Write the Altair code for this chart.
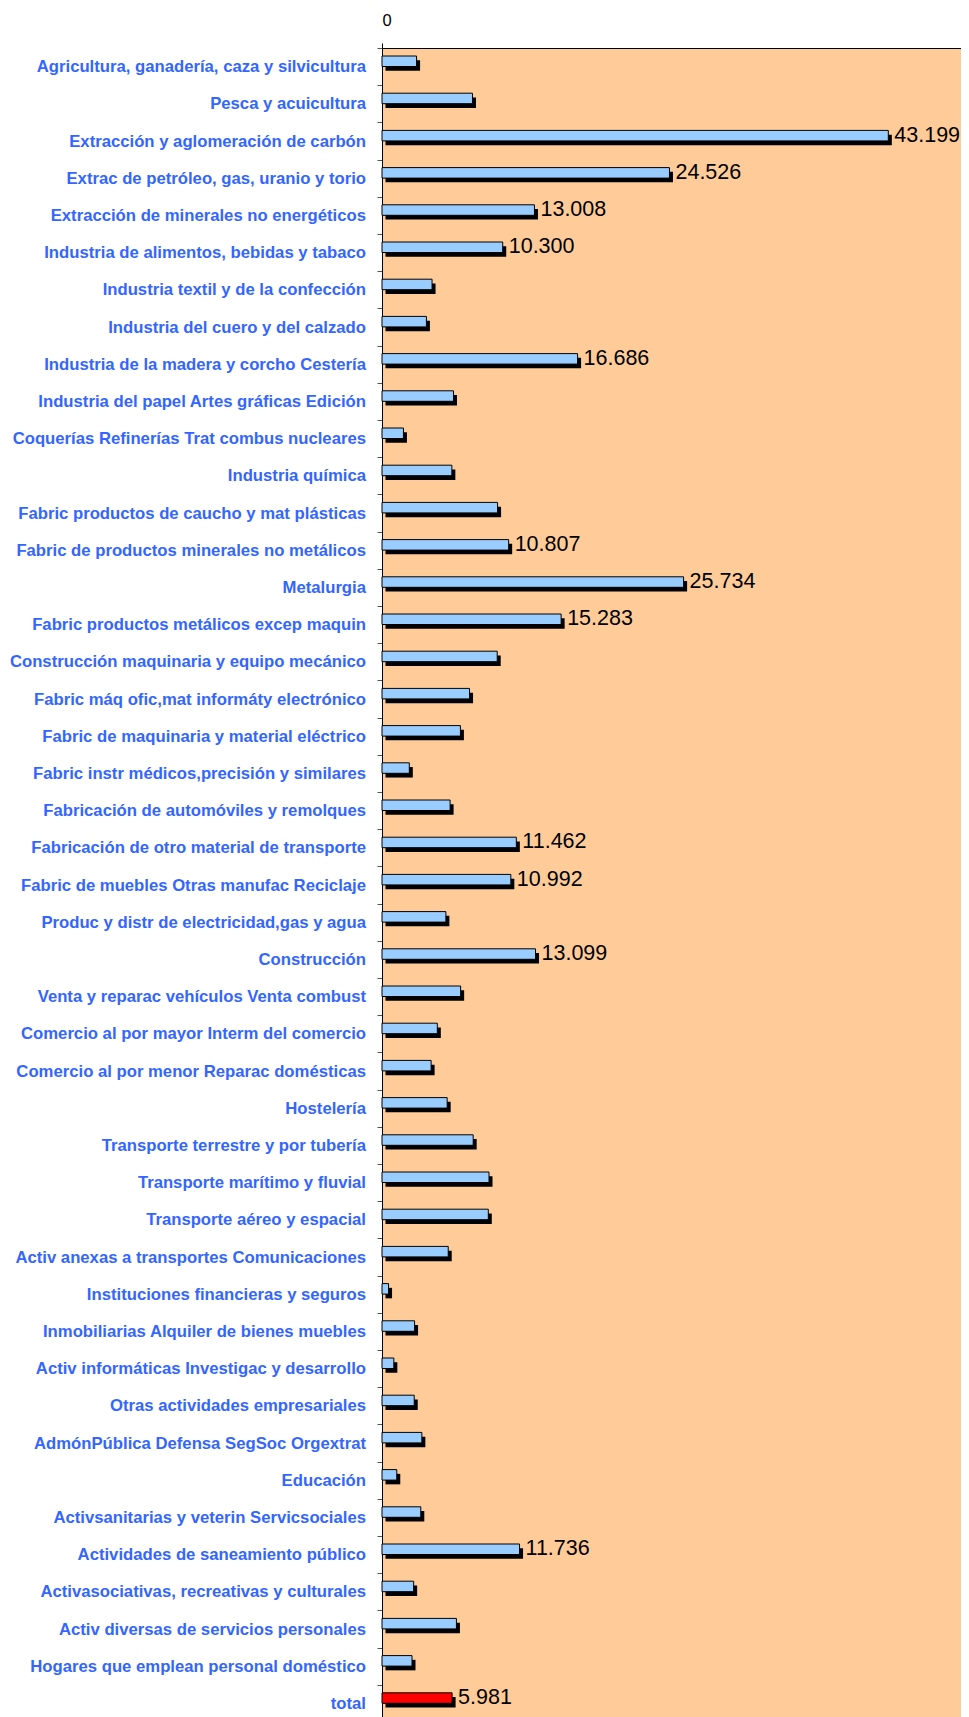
import altair as alt
import pandas as pd

categories = [
    "Agricultura, ganadería, caza y silvicultura",
    "Pesca y acuicultura",
    "Extracción y aglomeración de carbón",
    "Extrac de petróleo, gas, uranio y torio",
    "Extracción de minerales no energéticos",
    "Industria de alimentos, bebidas y tabaco",
    "Industria textil y de la confección",
    "Industria del cuero y del calzado",
    "Industria de la madera y corcho Cestería",
    "Industria del papel Artes gráficas Edición",
    "Coquerías Refinerías Trat combus nucleares",
    "Industria química",
    "Fabric productos de caucho y mat plásticas",
    "Fabric de productos minerales no metálicos",
    "Metalurgia",
    "Fabric productos metálicos excep maquin",
    "Construcción maquinaria y equipo mecánico",
    "Fabric máq ofic,mat informáty electrónico",
    "Fabric de maquinaria y material eléctrico",
    "Fabric instr médicos,precisión y similares",
    "Fabricación de automóviles y remolques",
    "Fabricación de otro material de transporte",
    "Fabric de muebles Otras manufac Reciclaje",
    "Produc y distr de electricidad,gas y agua",
    "Construcción",
    "Venta y reparac vehículos Venta combust",
    "Comercio al por mayor Interm del comercio",
    "Comercio al por menor Reparac domésticas",
    "Hostelería",
    "Transporte terrestre y por tubería",
    "Transporte marítimo y fluvial",
    "Transporte aéreo y espacial",
    "Activ anexas a transportes Comunicaciones",
    "Instituciones financieras y seguros",
    "Inmobiliarias Alquiler de bienes muebles",
    "Activ informáticas Investigac y desarrollo",
    "Otras actividades empresariales",
    "AdmónPública Defensa SegSoc  Orgextrat",
    "Educación",
    "Activsanitarias y veterin Servicsociales",
    "Actividades de saneamiento público",
    "Activasociativas, recreativas y culturales",
    "Activ diversas de servicios personales",
    "Hogares que emplean personal doméstico",
    "total",
]

values = [
    2.95, 7.72, 43.199, 24.526, 13.008, 10.300, 4.27, 3.79, 16.686, 6.10,
    1.83, 5.96, 9.86, 10.807, 25.734, 15.283, 9.83, 7.47, 6.69, 2.33,
    5.81, 11.462, 10.992, 5.45, 13.099, 6.71, 4.72, 4.19, 5.56, 7.78,
    9.13, 9.07, 5.65, 0.56, 2.78, 1.01, 2.75, 3.40, 1.26, 3.31,
    11.736, 2.70, 6.35, 2.56, 5.981,
]

labelled = [
    "Extracción y aglomeración de carbón",
    "Extrac de petróleo, gas, uranio y torio",
    "Extracción de minerales no energéticos",
    "Industria de alimentos, bebidas y tabaco",
    "Industria de la madera y corcho Cestería",
    "Fabric de productos minerales no metálicos",
    "Metalurgia",
    "Fabric productos metálicos excep maquin",
    "Fabricación de otro material de transporte",
    "Fabric de muebles Otras manufac Reciclaje",
    "Construcción",
    "Actividades de saneamiento público",
    "total",
]

df = pd.DataFrame({"sector": categories, "valor": values})
df["is_total"] = df["sector"] == "total"
df["show"] = df["sector"].isin(labelled)

FONT = "Liberation Sans"
STEP = 37.2
N = len(categories)

x_scale = alt.Scale(domain=[0, 49.4], nice=False, zero=True)
y_enc = alt.Y(
    "sector:N",
    sort=categories,
    scale=alt.Scale(paddingInner=0, paddingOuter=0, range=[0, N * STEP]),
    axis=alt.Axis(
        title=None,
        labelColor="#3366FF",
        labelFont=FONT,
        labelFontSize=16.7,
        labelFontWeight="bold",
        labelPadding=11.5,
        labelLimit=400,
        tickSize=5,
        tickBand="extent",
        tickColor="#555555",
        domainColor="black",
        domainWidth=1,
        grid=False,
    ),
)

x_axis = alt.Axis(
    orient="top",
    values=[0],
    title=None,
    labelFont=FONT,
    labelFontSize=16.5,
    labelColor="black",
    labelPadding=15,
    tickSize=5,
    tickColor="black",
    domainColor="black",
    domainWidth=1,
    grid=False,
)

shadow = alt.Chart(df).mark_bar(
    color="black", size=10.5, xOffset=3.5, x2Offset=3.5, yOffset=-1.1
).encode(
    x=alt.X("valor:Q", scale=x_scale, axis=x_axis),
    y=y_enc,
)

bars = alt.Chart(df).mark_bar(
    size=10.5, stroke="black", strokeWidth=1, yOffset=-5.35
).encode(
    x=alt.X("valor:Q", scale=x_scale, axis=x_axis),
    y=y_enc,
    color=alt.condition("datum.is_total", alt.value("#FF0000"), alt.value("#99CCFF")),
)

labels = alt.Chart(df).transform_filter("datum.show").mark_text(
    align="left", baseline="middle", dx=6, dy=-5.35, fontSize=21.5, font=FONT, color="black"
).encode(
    x=alt.X("valor:Q", scale=x_scale, axis=x_axis),
    y=y_enc,
    text=alt.Text("valor:Q", format=".3f"),
)

chart = alt.layer(shadow, bars, labels).properties(
    width=579,
    height=1669,
    autosize=alt.AutoSizeParams(type="none"),
    padding={"left": 374, "top": 40, "right": 0, "bottom": 0},
    background="white",
).configure_view(fill="#FFCC99", stroke="transparent")

chart.save("out.html", embed_options={"renderer": "svg", "actions": False})
